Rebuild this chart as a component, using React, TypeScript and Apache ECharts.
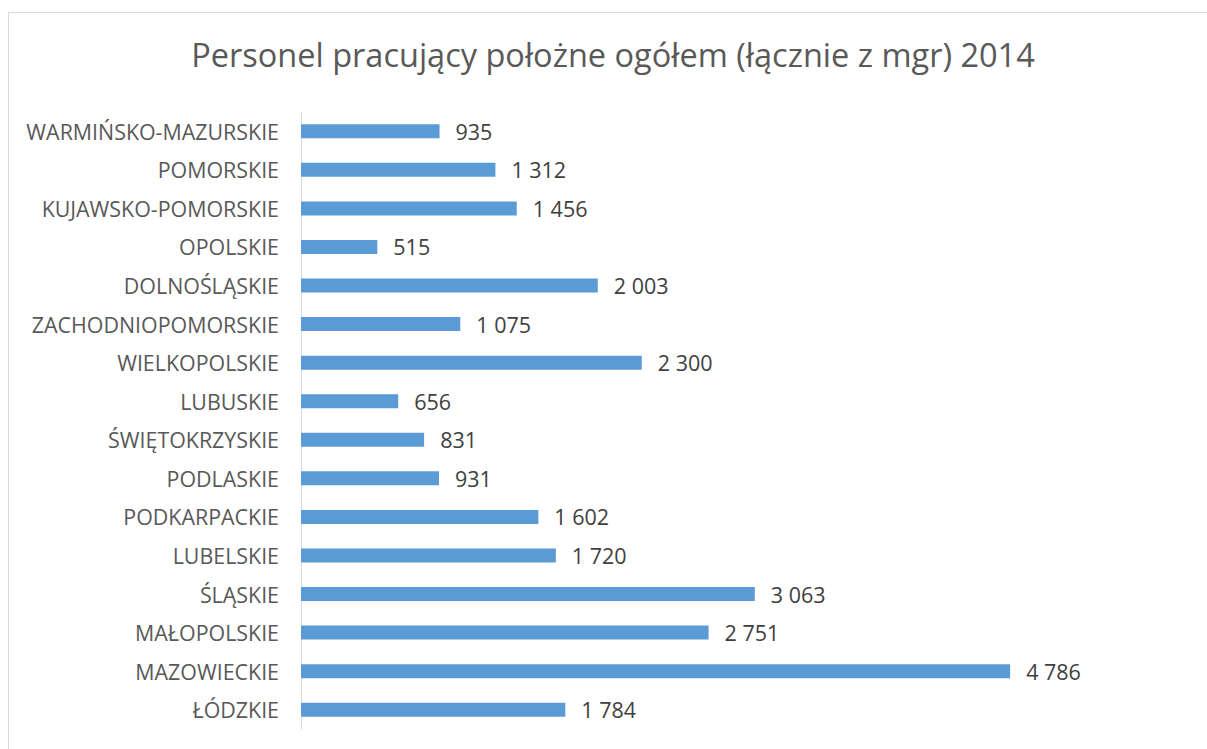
import React, { useEffect, useRef } from "react";
import * as echarts from "echarts";

const categories = [
  "ŁÓDZKIE",
  "MAZOWIECKIE",
  "MAŁOPOLSKIE",
  "ŚLĄSKIE",
  "LUBELSKIE",
  "PODKARPACKIE",
  "PODLASKIE",
  "ŚWIĘTOKRZYSKIE",
  "LUBUSKIE",
  "WIELKOPOLSKIE",
  "ZACHODNIOPOMORSKIE",
  "DOLNOŚLĄSKIE",
  "OPOLSKIE",
  "KUJAWSKO-POMORSKIE",
  "POMORSKIE",
  "WARMIŃSKO-MAZURSKIE",
];
const values = [1784, 4786, 2751, 3063, 1720, 1602, 931, 831, 656, 2300, 1075, 2003, 515, 1456, 1312, 935];
const title = "Personel pracujący położne ogółem (łącznie z mgr) 2014";

const fmt = (v: number) => String(v).replace(/\B(?=(\d{3})+(?!\d))/g, " ");

export default function App() {
  const ref = useRef<HTMLDivElement>(null);
  useEffect(() => {
    if (!ref.current) return;
    const chart = echarts.init(ref.current, null, { renderer: "svg" });
    chart.setOption({
      animation: false,
      backgroundColor: "#ffffff",
      title: {
        text: title,
        left: 608,
        textAlign: "center",
        top: 33,
        textStyle: { fontFamily: "Open Sans", fontSize: 32.5, fontWeight: "normal", color: "#595959" },
      },
      graphic: [
        {
          type: "rect",
          shape: { x: 8.5, y: 12.5, width: 1230, height: 760 },
          style: { fill: "none", stroke: "#d9d9d9", lineWidth: 1 },
          silent: true,
        },
      ],
      grid: { left: 301, right: 17, top: 112, bottom: 20, containLabel: false },
      xAxis: {
        type: "value",
        min: 0,
        max: 6000,
        show: false,
      },
      yAxis: {
        type: "category",
        data: categories,
        axisLine: { show: true, lineStyle: { color: "#d9d9d9", width: 1 } },
        axisTick: { show: false },
        axisLabel: { fontFamily: "Open Sans", fontSize: 21.4, color: "#595959", margin: 22 },
        splitLine: { show: false },
      },
      series: [
        {
          type: "bar",
          data: values,
          barWidth: 14,
          itemStyle: { color: "#5b9bd5" },
          label: {
            show: true,
            position: "right",
            distance: 16,
            fontFamily: "Open Sans",
            fontSize: 21.5,
            color: "#404040",
            formatter: (p: any) => fmt(p.value),
          },
        },
      ],
    });
    return () => chart.dispose();
  }, []);
  return <div ref={ref} style={{ position: "fixed", left: 0, top: 0, width: 1207, height: 749 }} />;
}
